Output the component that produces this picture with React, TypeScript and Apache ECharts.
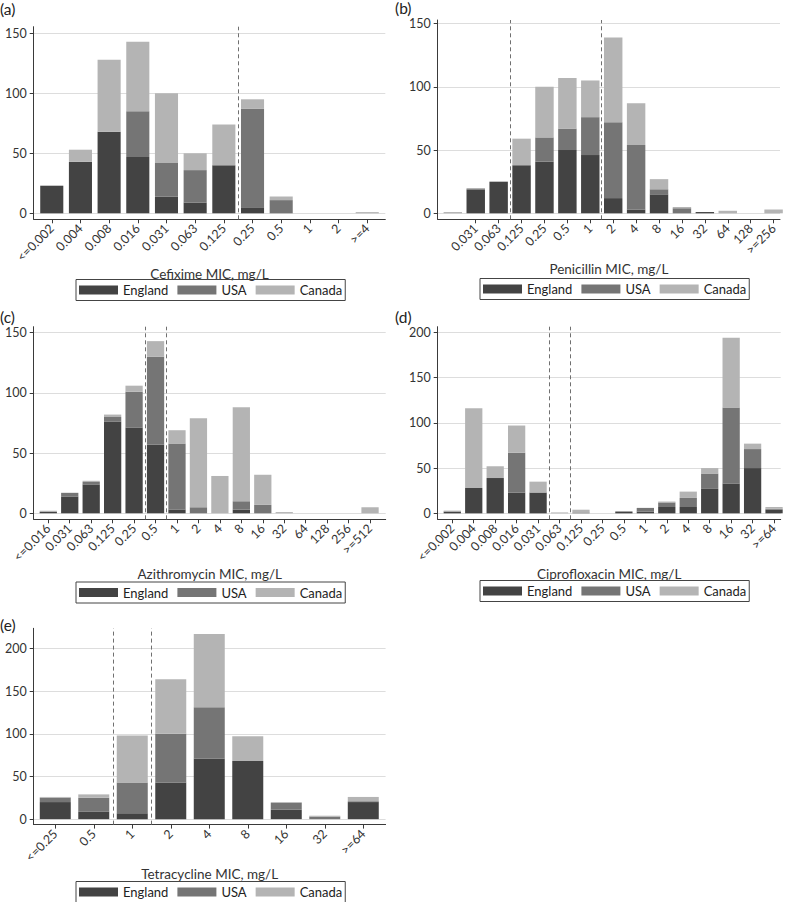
import React, { useEffect, useRef } from 'react';
import * as echarts from 'echarts';

// ---------- data ----------
const seriesNames = ['England', 'USA', 'Canada'];

const cefiximeCats = ['<=0.002', '0.004', '0.008', '0.016', '0.031', '0.063', '0.125', '0.25', '0.5', '1', '2', '>=4'];
const cefiximeEngland = [23, 43, 68, 47, 14, 9, 40, 5, 0, 0, 0, 0];
const cefiximeUSA = [0, 0, 0, 38, 28, 27, 0, 82, 11, 0, 0, 0];
const cefiximeCanada = [0, 10, 60, 58, 58, 14, 34, 8, 3, 0, 0, 1];
const cefiximeBreaks = [6.5];

const penicillinCats = ['', '0.031', '0.063', '0.125', '0.25', '0.5', '1', '2', '4', '8', '16', '32', '64', '128', '>=256'];
const penicillinEngland = [0, 19, 25, 38, 41, 50, 46, 12, 3, 15, 0, 1, 0, 0, 0];
const penicillinUSA = [0, 0, 0, 0, 19, 17, 30, 60, 51, 4, 4, 0, 0, 0, 0];
const penicillinCanada = [1, 1, 0, 21, 40, 40, 29, 67, 33, 8, 1, 0, 2, 0, 3];
const penicillinBreaks = [2.5, 6.5];

const azithroCats = ['<=0.016', '0.031', '0.063', '0.125', '0.25', '0.5', '1', '2', '4', '8', '16', '32', '64', '128', '256', '>=512'];
const azithroEngland = [1, 14, 24, 76, 71, 57, 3, 0, 0, 3, 0, 0, 0, 0, 0, 0];
const azithroUSA = [0, 3, 2, 4, 30, 73, 55, 5, 0, 7, 7, 0, 0, 0, 0, 0];
const azithroCanada = [1, 0, 1, 2, 5, 13, 11, 74, 31, 78, 25, 1, 0, 0, 0, 5];
const azithroBreaks = [4.5, 5.5];

const ciproCats = ['<=0.002', '0.004', '0.008', '0.016', '0.031', '0.063', '0.125', '0.25', '0.5', '1', '2', '4', '8', '16', '32', '>=64'];
const ciproEngland = [2, 28, 39, 23, 23, 0, 0, 0, 2, 2, 7, 7, 27, 33, 50, 4];
const ciproUSA = [0, 0, 0, 44, 0, 0, 1, 0, 0, 4, 5, 10, 17, 84, 21, 1];
const ciproCanada = [1, 88, 13, 30, 12, 1, 3, 0, 0, 0, 1, 7, 6, 77, 6, 2];
const ciproBreaks = [4.5, 5.5];

const tetraCats = ['<=0.25', '0.5', '1', '2', '4', '8', '16', '32', '>=64'];
const tetraEngland = [20, 9, 7, 43, 71, 68, 11, 0, 20];
const tetraUSA = [5, 16, 36, 57, 60, 0, 8, 3, 1];
const tetraCanada = [1, 4, 55, 64, 86, 29, 1, 1, 5];
const tetraBreaks = [1.5, 2.5];

const yTicks150 = [0, 50, 100, 150];
const yTicks200 = [0, 50, 100, 150, 200];

// ---------- styling ----------
const COLORS = ['#434343', '#757575', '#b4b4b4'];
const FONT = 'Lato, "Open Sans", sans-serif';
const TEXT = '#333333';
const AXIS = '#3a3a3a';

type Panel = {
  tag: string;
  name: string;
  cats: string[];
  vals: number[][];
  breaks: number[];
  yTicks: number[];
  firstTick: number;
  left: number; top: number; width: number; height: number;
  xMin: number; xMax: number; yMin: number; yMax: number;
  nameGap: number;
  tagLeft: number; tagTop: number;
  legLeft: number; legTop: number;
};

const panels: Panel[] = [
  {
    tag: '(a)', name: 'Cefixime MIC, mg/L', cats: cefiximeCats,
    vals: [cefiximeEngland, cefiximeUSA, cefiximeCanada], breaks: cefiximeBreaks, yTicks: yTicks150, firstTick: 0,
    left: 33.7, top: 26.7, width: 351.6, height: 192.6,
    xMin: -0.63, xMax: 11.63, yMin: -5, yMax: 155.5,
    nameGap: 42, tagLeft: 0, tagTop: 1, legLeft: 76, legTop: 279.5,
  },
  {
    tag: '(b)', name: 'Penicillin MIC, mg/L', cats: penicillinCats,
    vals: [penicillinEngland, penicillinUSA, penicillinCanada], breaks: penicillinBreaks, yTicks: yTicks150, firstTick: 1,
    left: 437.7, top: 20, width: 342.3, height: 199.3,
    xMin: -0.66, xMax: 14.28, yMin: -4.74, yMax: 152.8,
    nameGap: 43, tagLeft: 395, tagTop: 0, legLeft: 480, legTop: 278.5,
  },
  {
    tag: '(c)', name: 'Azithromycin MIC, mg/L', cats: azithroCats,
    vals: [azithroEngland, azithroUSA, azithroCanada], breaks: azithroBreaks, yTicks: yTicks150, firstTick: 0,
    left: 33.7, top: 326.7, width: 352, height: 192.6,
    xMin: -0.68, xMax: 15.73, yMin: -5, yMax: 155,
    nameGap: 44.5, tagLeft: 0, tagTop: 309, legLeft: 76, legTop: 582,
  },
  {
    tag: '(d)', name: 'Ciprofloxacin MIC, mg/L', cats: ciproCats,
    vals: [ciproEngland, ciproUSA, ciproCanada], breaks: ciproBreaks, yTicks: yTicks200, firstTick: 0,
    left: 437.7, top: 326.7, width: 343, height: 192.6,
    xMin: -0.68, xMax: 15.31, yMin: -6.6, yMax: 206.2,
    nameGap: 46, tagLeft: 395, tagTop: 309, legLeft: 480, legTop: 580.5,
  },
  {
    tag: '(e)', name: 'Tetracycline MIC, mg/L', cats: tetraCats,
    vals: [tetraEngland, tetraUSA, tetraCanada], breaks: tetraBreaks, yTicks: yTicks200, firstTick: 0,
    left: 33.7, top: 628.3, width: 351.9, height: 196.3,
    xMin: -0.56, xMax: 8.58, yMin: -6.4, yMax: 223.6,
    nameGap: 38.5, tagLeft: 0, tagTop: 617, legLeft: 76, legTop: 881.5,
  },
];

function buildOption() {
  const grid: any[] = [];
  const xAxis: any[] = [];
  const yAxis: any[] = [];
  const series: any[] = [];
  const title: any[] = [];
  const legend: any[] = [];

  panels.forEach((p, i) => {
    grid.push({ left: p.left, top: p.top, width: p.width, height: p.height, containLabel: false });
    const xt: number[] = [];
    for (let k = p.firstTick; k < p.cats.length; k++) xt.push(k);
    xAxis.push({
      type: 'value', gridIndex: i, min: p.xMin, max: p.xMax,
      name: p.name, nameLocation: 'middle', nameGap: p.nameGap,
      nameTextStyle: { fontSize: 13.5, color: TEXT, fontFamily: FONT },
      axisLine: { show: true, onZero: false, lineStyle: { color: AXIS, width: 1 } },
      axisTick: { show: true, length: 4, customValues: xt, lineStyle: { color: AXIS, width: 1 } },
      axisLabel: {
        customValues: xt, rotate: 45, margin: 7, fontSize: 12.5, color: TEXT, fontFamily: FONT,
        formatter: (v: number) => p.cats[Math.round(v)] ?? '',
      },
      splitLine: { show: false },
    });
    yAxis.push({
      type: 'value', gridIndex: i, min: p.yMin, max: p.yMax,
      axisLine: { show: true, onZero: false, lineStyle: { color: AXIS, width: 1 } },
      axisTick: { show: true, length: 4, customValues: p.yTicks, lineStyle: { color: AXIS, width: 1 } },
      axisLabel: { customValues: p.yTicks, margin: 7, fontSize: 12.5, color: TEXT, fontFamily: FONT },
      splitLine: { show: true, lineStyle: { color: '#dddddd', width: 1 } },
    });
    const bw = (0.805 * p.width) / (p.xMax - p.xMin);
    p.vals.forEach((arr, s) => {
      const ser: any = {
        type: 'bar', name: seriesNames[s], xAxisIndex: i, yAxisIndex: i, stack: 'st' + i,
        barWidth: bw, itemStyle: { color: COLORS[s] },
        // value first so that stacking happens on the y dimension
        encode: { x: 1, y: 0 },
        data: arr.map((v, j) => [v, j]),
      };
      if (s === 2) {
        ser.markLine = {
          silent: true, symbol: 'none', label: { show: false },
          lineStyle: { color: '#707070', width: 1, type: [4, 3] },
          data: p.breaks.map((b) => ({ xAxis: b })),
        };
      }
      series.push(ser);
    });
    title.push({
      text: p.tag, left: p.tagLeft, top: p.tagTop, padding: 0,
      textStyle: { fontSize: 15.5, fontWeight: 'normal', color: '#222', fontFamily: FONT },
    });
    legend.push({
      data: seriesNames, left: p.legLeft, top: p.legTop, orient: 'horizontal',
      icon: 'rect', itemWidth: 39, itemHeight: 9, itemGap: 9,
      borderColor: '#444', borderWidth: 1, padding: [4, 3, 4, 3], selectedMode: false,
      textStyle: { fontSize: 13, color: '#222', fontFamily: FONT },
    });
  });

  return { animation: false, backgroundColor: '#ffffff', textStyle: { fontFamily: FONT }, grid, xAxis, yAxis, series, title, legend };
}

export default function App() {
  const ref = useRef<HTMLDivElement>(null);
  useEffect(() => {
    if (!ref.current) return;
    const chart = echarts.init(ref.current, undefined, { renderer: 'svg' });
    chart.setOption(buildOption() as any);
    return () => chart.dispose();
  }, []);
  return <div ref={ref} style={{ position: 'absolute', left: 0, top: 0, width: 789, height: 902 }} />;
}
